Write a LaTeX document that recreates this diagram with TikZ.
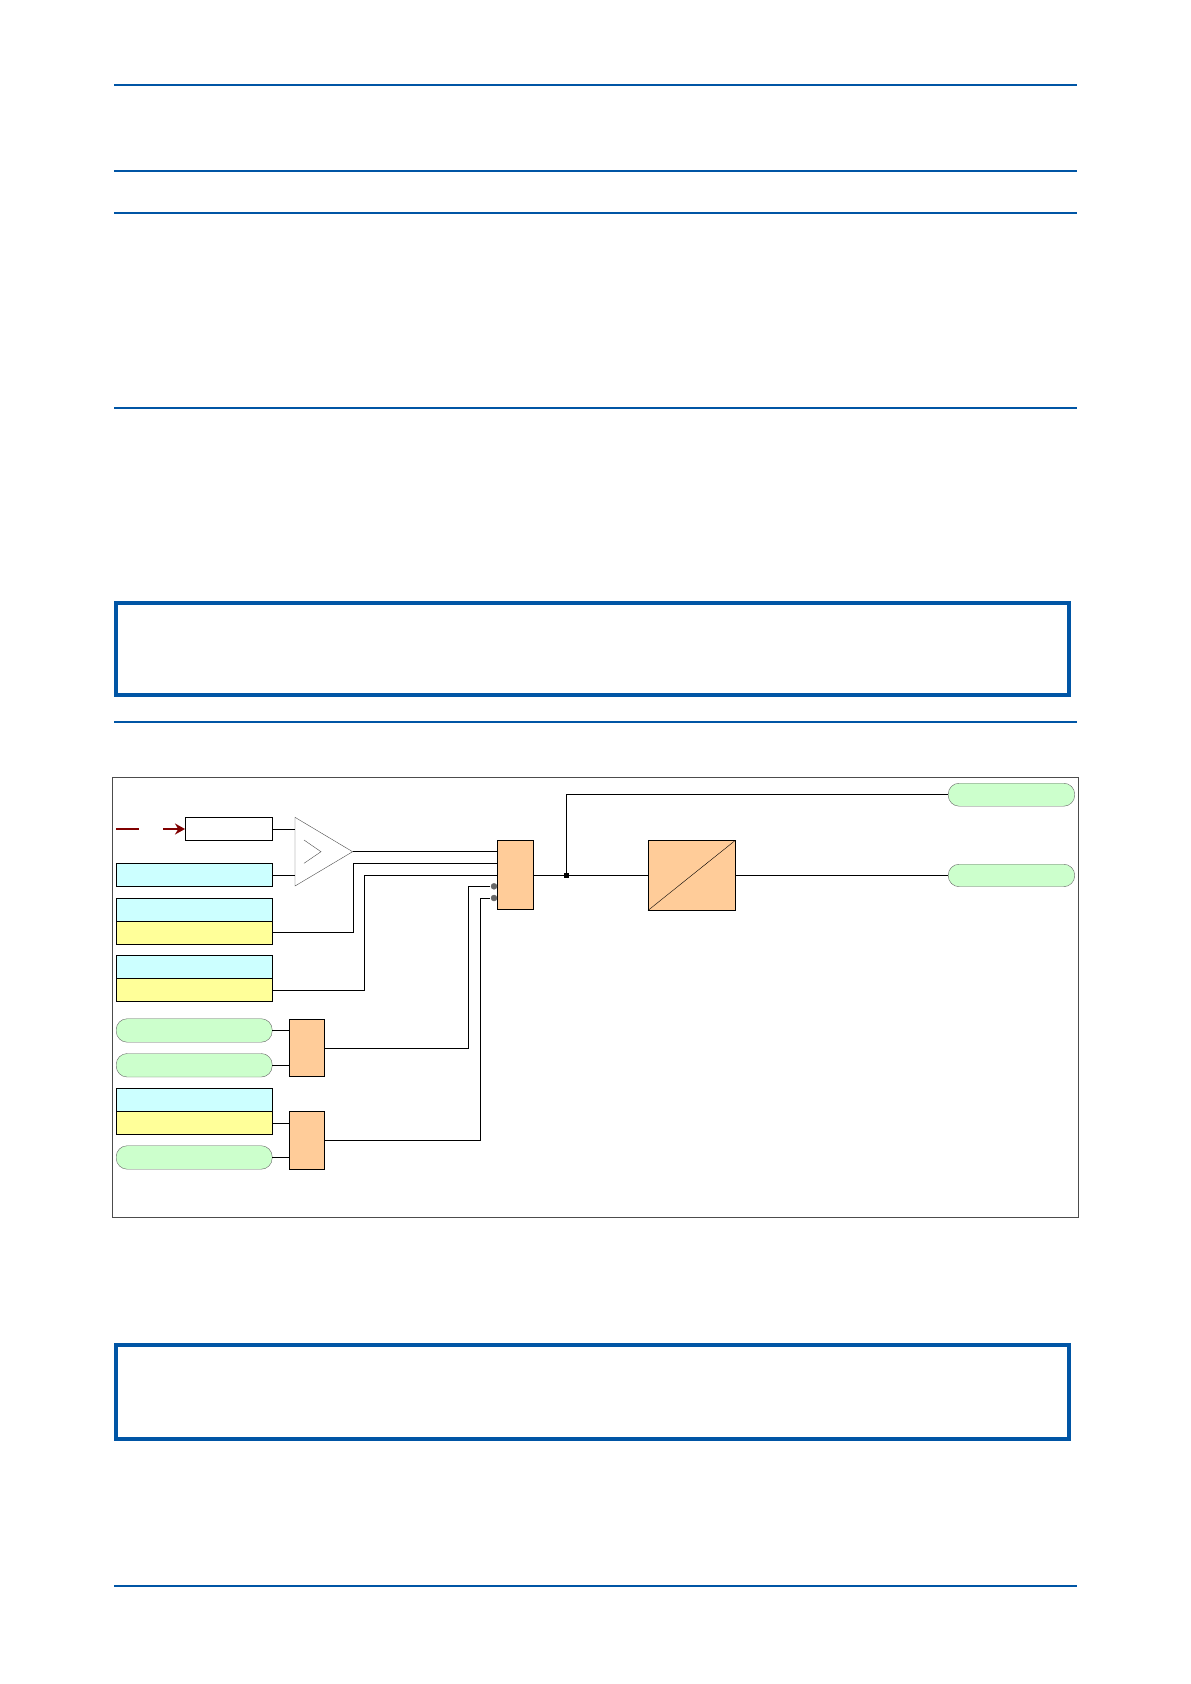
\documentclass[tikz,border=0pt]{standalone}
\usetikzlibrary{arrows.meta, positioning}
\definecolor{pageblue}{RGB}{0,85,165}
\definecolor{sigcyan}{RGB}{204,255,255}
\definecolor{sigyellow}{RGB}{255,255,153}
\definecolor{siggreen}{RGB}{204,255,204}
\definecolor{gateorange}{RGB}{255,204,153}
\definecolor{darkred}{RGB}{128,0,0}
\tikzset{
  rule/.style={pageblue, line width=2pt},
  notebox/.style={pageblue, line width=4pt},
  cyanbox/.style={draw, fill=sigcyan, minimum width=156pt, minimum height=23pt, inner sep=0pt, anchor=north west},
  yellowbox/.style={draw, fill=sigyellow, minimum width=156pt, minimum height=23pt, inner sep=0pt, anchor=north west},
  pill/.style={draw=black!60, fill=siggreen, rounded corners=11pt, minimum width=156pt, minimum height=23.5pt, inner sep=0pt, anchor=north west},
  gate/.style={draw, fill=gateorange, inner sep=0pt, anchor=north west},
  wire/.style={line width=0.8pt}
}
\begin{document}
\begin{tikzpicture}[x=1pt, y=-1pt]
\useasboundingbox (0,0) rectangle (1191,1684);

% page rules and note boxes
\foreach \y in {84.9, 170.8, 212.7, 408.3, 722, 1586}
  \draw[rule] (114, \y) -- (1077, \y);
\draw[notebox] (116, 602.8) rectangle (1069, 695.2);
\draw[notebox] (116, 1345) rectangle (1069, 1438.7);

% diagram frame
\draw[black!70, line width=0.8pt] (112, 777.3) rectangle (1078, 1217.3);

% inputs
\draw[darkred, line width=1.8pt] (116, 829) -- (139, 829);
\node[draw, minimum width=87pt, minimum height=23pt, inner sep=0pt, anchor=north west] (setbox) at (185, 817.3) {};
\draw[darkred, line width=1.8pt, -{Stealth[length=10pt, width=11pt]}] (163, 829) -- (setbox.west);

\node[cyanbox] (meas) at (116, 863.3) {};
\node[cyanbox] (cfgA) at (116, 898.3) {};
\node[yellowbox] (selA) at (116, 921.3) {};
\node[cyanbox] (cfgB) at (116, 955.3) {};
\node[yellowbox] (selB) at (116, 978.3) {};
\node[pill] (sigA) at (116, 1018.5) {};
\node[pill] (sigB) at (116, 1053.3) {};
\node[cyanbox] (cfgC) at (116, 1088.3) {};
\node[yellowbox] (selC) at (116, 1111.3) {};
\node[pill] (sigC) at (116, 1145.5) {};

% comparator
\coordinate (cmpTip) at (352.6, 851.7);
\draw[black!70] (295, 817.3) -- (cmpTip) -- (295, 886) -- cycle;
\draw[black!70] (304, 840) -- (321, 851.7) -- (304, 863.3);

% gates
\node[gate, minimum width=35pt, minimum height=57.3pt] (orA) at (289, 1019) {};
\node[gate, minimum width=35pt, minimum height=58pt] (orB) at (289, 1111.3) {};
\node[gate, minimum width=35.5pt, minimum height=69pt] (andG) at (497, 840.3) {};
\node[gate, minimum width=87pt, minimum height=69.7pt] (timer) at (648, 840.3) {};
\draw (timer.south west) -- (timer.north east);

% outputs
\node[pill, minimum width=126.5pt, minimum height=23pt] (outA) at (948, 783) {};
\node[pill, minimum width=126.5pt, minimum height=22.5pt] (outB) at (948, 864) {};

% wiring
\draw[wire] (setbox.east) -- (295, 829);
\draw[wire] (meas.east) -- (295, 875);
\draw[wire] (cmpTip) -- (andG.west |- cmpTip);
\draw[wire] (selA.east |- 0, 932.3) -| (353, 863.3) -- (andG.west |- 0, 863.3);
\draw[wire] (selB.east |- 0, 990) -| (364.4, 875.3) -- (andG.west |- 0, 875.3);
\draw[wire] (orA.east |- 0, 1048) -| (468, 886.3) -- (490, 886.3);
\draw[wire] (orB.east |- 0, 1140) -| (480, 898) -- (490, 898);
\draw[fill=white, black!60, line width=0.4pt] (494, 886.3) circle (3pt);
\draw[fill=white, black!60, line width=0.4pt] (494, 898) circle (3pt);
\draw[wire] (sigA.east) -- (orA.west |- sigA.east);
\draw[wire] (sigB.east) -- (orA.west |- sigB.east);
\draw[wire] (selC.east) -- (orB.west |- selC.east);
\draw[wire] (sigC.east) -- (orB.west |- sigC.east);

\coordinate (junc) at (566, 875.3);
\draw[wire] (andG.east |- junc) -- (timer.west |- junc);
\fill (junc) +(-2.5,-2.5) rectangle +(2.5,2.5);
\draw[wire] (junc) |- (outA.west);
\draw[wire] (timer.east |- outB.west) -- (outB.west);

\end{tikzpicture}
\end{document}
